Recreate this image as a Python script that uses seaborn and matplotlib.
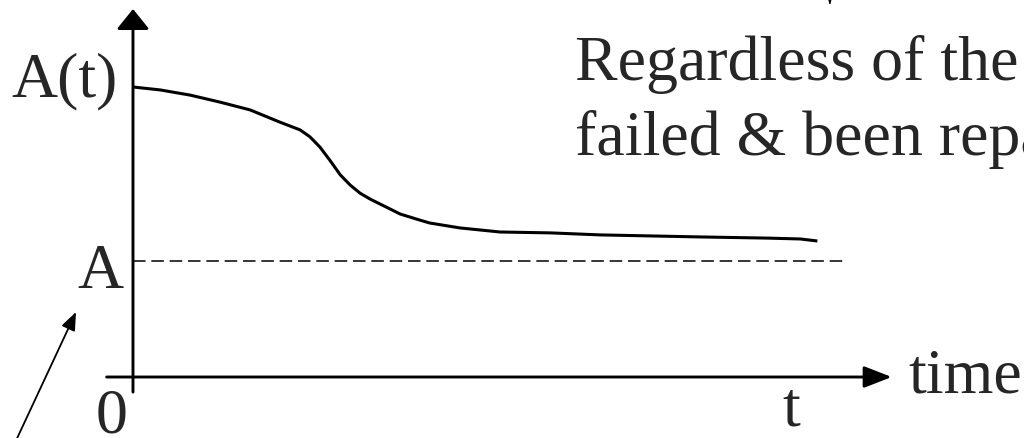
import numpy as np
import pandas as pd
import matplotlib
matplotlib.use('Agg')
import matplotlib.pyplot as plt
import seaborn as sns

# availability curve A(t)
time = [0, 0.41, 0.87, 1.32, 1.78, 2.23, 2.54, 2.69, 2.84, 2.99, 3.15, 3.30, 3.45,
        3.60, 3.75, 3.91, 4.06, 4.36, 4.51, 4.97, 5.58, 6.34, 7.10, 8.62, 9.64,
        10.14, 10.40]
avail = [1.000, 0.990, 0.972, 0.948, 0.921, 0.879, 0.852, 0.828, 0.793, 0.748, 0.697,
         0.662, 0.634, 0.614, 0.597, 0.579, 0.562, 0.541, 0.531, 0.514, 0.500, 0.497,
         0.490, 0.483, 0.479, 0.476, 0.469]

# steady state availability
A_ss = 0.40
dash_time = [0, 10.79]

t_mark = 10.0
note_lines = ["Regardless of the", "failed & been repa"]

sns.set_theme(style='white')
plt.rcParams['font.family'] = ['Liberation Serif', 'DejaVu Serif']

fig = plt.figure(figsize=(10.24, 4.38), dpi=100)
ax = fig.add_axes([0, 0, 1, 1])
ax.set_xlim(-2.021, 13.54)
ax.set_ylim(-0.2103, 1.30)
ax.set_axis_off()

df = pd.DataFrame({'time': time, 'A': avail})
sns.lineplot(data=df, x='time', y='A', ax=ax, color='black', linewidth=2.2,
             solid_joinstyle='round', solid_capstyle='butt')

dash = pd.DataFrame({'time': dash_time, 'A': [A_ss, A_ss]})
sns.lineplot(data=dash, x='time', y='A', ax=ax, color='black', linewidth=1.1,
             dashes=False, linestyle=(0, (8.2, 3.8)))

# axes with arrow heads
ax.annotate('', xy=(0, 1.269), xytext=(0, -0.052),
            arrowprops=dict(arrowstyle='-|>,head_length=0.62,head_width=0.5',
                            mutation_scale=20, lw=2.1, color='black',
                            shrinkA=0, shrinkB=0))
ax.annotate('', xy=(11.53, 0), xytext=(-0.40, 0),
            arrowprops=dict(arrowstyle='-|>,head_length=0.85,head_width=0.33',
                            mutation_scale=20, lw=2.1, color='black',
                            shrinkA=0, shrinkB=0))

# pointer arrow at the lower left
ax.annotate('', xy=(-0.866, 0.224), xytext=(-1.80, -0.23),
            arrowprops=dict(arrowstyle='-|>,head_length=0.55,head_width=0.22',
                            mutation_scale=20, lw=1.3, color='black',
                            shrinkA=0, shrinkB=0))
# cut off pointer at the top, only its tip shows
ax.annotate('', xy=(10.59, 1.281), xytext=(10.59, 1.50),
            arrowprops=dict(arrowstyle='-|>,head_length=1.0,head_width=0.28',
                            mutation_scale=20, lw=0.8, color='black',
                            shrinkA=0, shrinkB=0))

fs = 46
ax.text(-0.23, 0.966, 'A(t)', fontsize=fs, ha='right', va='baseline')
ax.text(-0.15, 0.307, 'A', fontsize=fs, ha='right', va='baseline')
ax.text(-0.33, -0.19, '0', fontsize=fs, ha='center', va='baseline')
ax.text(t_mark, -0.166, 't', fontsize=fs, ha='center', va='baseline')
ax.text(11.78, -0.055, 'time', fontsize=fs, ha='left', va='baseline')
ax.text(6.72, 1.024, note_lines[0], fontsize=46, ha='left', va='baseline')
ax.text(6.72, 0.766, note_lines[1], fontsize=46, ha='left', va='baseline')

fig.savefig('out.png', dpi=100)
